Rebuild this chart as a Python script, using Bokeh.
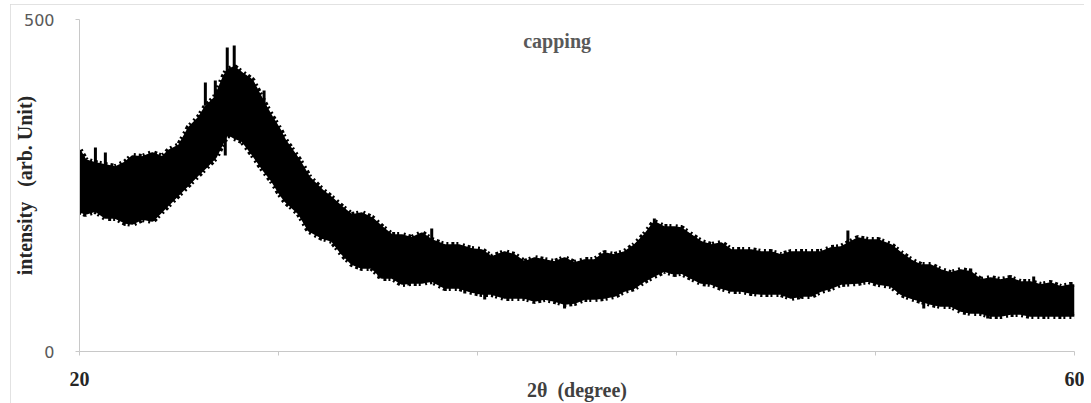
from bokeh.plotting import figure
from bokeh.models import Range1d, Label, FixedTicker
from bokeh.embed import file_html
from bokeh.resources import INLINE

# 2theta (degree) and the upper / lower envelope of the noisy XRD trace (arb. unit)
two_theta = [20.00, 20.24, 20.64, 21.04, 21.44, 21.85, 22.13, 22.53, 22.93, 23.33,
             23.61, 24.01, 24.41, 24.81, 25.06, 25.46, 25.74, 25.94, 26.22, 26.54,
             26.94, 27.42, 27.74, 28.06, 28.26, 28.83, 29.23, 29.75, 30.15, 30.55,
             30.95, 31.35, 31.76, 32.16, 32.56, 32.96, 33.36, 33.76, 34.16, 34.68,
             35.25, 35.77, 36.17, 36.57, 37.09, 37.49, 37.89, 38.29, 38.70, 39.10,
             39.50, 39.90, 40.30, 40.70, 41.10, 41.50, 41.91, 42.31, 42.71, 43.11,
             43.51, 43.91, 44.19, 44.59, 45.00, 45.40, 45.80, 46.20, 46.60, 47.00,
             47.40, 47.80, 48.20, 48.60, 49.01, 49.41, 49.81, 50.21, 50.61, 51.29,
             51.70, 52.10, 52.62, 53.02, 53.42, 53.82, 54.22, 54.62, 55.02, 55.43,
             55.83, 56.23, 56.63, 57.03, 57.43, 57.83, 58.23, 58.64, 59.04, 59.44,
             59.84, 60.00]
upper = [302.7, 287.6, 283.1, 280.1, 277.1, 284.6, 293.7, 292.2, 298.2, 292.2,
         302.7, 310.2, 337.3, 352.4, 367.5, 382.5, 408.1, 423.2, 427.7, 418.7,
         408.1, 373.5, 352.4, 332.8, 317.8, 287.6, 262.0, 242.5, 230.4, 216.9,
         204.8, 207.8, 200.3, 186.7, 174.7, 174.7, 170.2, 177.7, 167.2, 159.6,
         159.6, 153.6, 152.1, 141.6, 149.1, 144.6, 134.0, 140.1, 137.0, 134.0,
         140.1, 132.5, 137.0, 137.0, 147.6, 144.6, 149.1, 159.6, 174.7, 194.3,
         186.7, 186.7, 185.2, 174.7, 164.2, 159.6, 162.6, 152.1, 152.1, 152.1,
         149.1, 149.1, 144.6, 149.1, 149.1, 149.1, 149.1, 155.1, 156.6, 170.2,
         167.2, 167.2, 159.6, 147.6, 137.0, 129.5, 129.5, 122.0, 117.5, 122.0,
         119.0, 106.9, 109.9, 106.9, 109.9, 103.9, 103.9, 99.4, 102.4, 96.4,
         99.4, 99.4]
lower = [212.3, 207.8, 212.3, 201.8, 201.8, 194.3, 192.8, 200.3, 197.3, 212.3,
         222.9, 237.9, 253.0, 268.1, 277.1, 292.2, 313.2, 328.3, 322.3, 317.8,
         298.2, 272.6, 257.5, 237.9, 227.4, 207.8, 182.2, 171.7, 167.2, 147.6,
         132.5, 126.5, 126.5, 111.4, 111.4, 102.4, 103.9, 103.9, 106.9, 96.4,
         96.4, 90.4, 87.3, 87.3, 81.3, 81.3, 81.3, 76.8, 79.8, 76.8,
         72.3, 73.8, 79.8, 79.8, 81.3, 84.3, 91.9, 96.4, 106.9, 114.5,
         122.0, 117.5, 119.0, 111.4, 103.9, 102.4, 96.4, 91.9, 91.9, 88.9,
         87.3, 87.3, 87.3, 81.3, 84.3, 84.3, 91.9, 96.4, 102.4, 103.9,
         106.9, 102.4, 99.4, 87.3, 81.3, 76.8, 72.3, 69.3, 69.3, 61.7,
         58.7, 58.7, 54.2, 54.2, 57.2, 57.2, 54.2, 54.2, 54.2, 54.2,
         54.2, 54.2]

# isolated spikes above the band and dips below it
spike_x = [20.64, 21.04, 25.06, 25.46, 25.94, 26.22, 27.42, 34.16, 43.11, 50.89, 55.83, 58.36]
spike_top = [307.2, 299.7, 405.1, 408.1, 457.8, 460.8, 393.1, 185.2, 200.3, 182.2, 125.0, 113.0]
spike_base = [280.0, 278.0, 370.0, 380.0, 420.0, 425.0, 370.0, 165.0, 185.0, 160.0, 115.0, 100.0]
dip_x = [25.86, 32.04, 33.24, 35.49, 36.29, 39.50, 49.01, 53.94, 56.51]
dip_bottom = [295.2, 109.9, 99.4, 87.3, 78.3, 64.8, 79.8, 64.8, 49.7]
dip_base = [330.0, 125.0, 110.0, 97.0, 90.0, 75.0, 88.0, 75.0, 58.0]

x_ticks = [20, 28, 36, 44, 52, 60]
y_ticks = [0, 500]

p = figure(width=1074, height=399, output_backend="svg", toolbar_location=None,
           x_range=Range1d(20, 60), y_range=Range1d(0, 500),
           min_border_left=67, min_border_right=10, min_border_top=15,
           min_border_bottom=52)
p.outline_line_color = None
p.xgrid.visible = False
p.ygrid.visible = False
p.styles = {"margin-left": "10px", "margin-top": "4px",
            "outline": "1px solid #d9d9d9", "outline-offset": "-1px"}

p.varea(x=two_theta, y1=lower, y2=upper, fill_color="black")
p.line(two_theta, upper, line_color="black", line_width=7, line_dash="2 3 3 2 2 4")
p.line(two_theta, lower, line_color="black", line_width=7, line_dash="3 2 2 4 2 3")
p.line(two_theta, upper, line_color="black", line_width=2.5)
p.line(two_theta, lower, line_color="black", line_width=2.5)
p.segment(x0=spike_x, y0=spike_base, x1=spike_x, y1=spike_top,
          line_color="black", line_width=3)
p.segment(x0=dip_x, y0=dip_base, x1=dip_x, y1=dip_bottom,
          line_color="black", line_width=3)

xa = p.xaxis[0]
xa.ticker = FixedTicker(ticks=x_ticks)
xa.major_label_overrides = {t: "" for t in x_ticks[1:-1]}
xa.axis_line_color = "#c8c8c8"
xa.major_tick_line_color = "#c8c8c8"
xa.major_tick_out = 4
xa.major_tick_in = 0
xa.minor_tick_line_color = None
xa.major_label_text_font = "Liberation Serif"
xa.major_label_text_font_style = "bold"
xa.major_label_text_font_size = "20px"
xa.major_label_text_color = "#262626"
xa.major_label_standoff = 16
xa.axis_label = "2\u03b8\u00a0\u00a0(degree)"
xa.axis_label_text_font = "Liberation Serif"
xa.axis_label_text_font_style = "bold"
xa.axis_label_text_font_size = "20px"
xa.axis_label_text_color = "#404040"
xa.axis_label_standoff = -10

ya = p.yaxis[0]
ya.ticker = FixedTicker(ticks=y_ticks)
ya.axis_line_color = "#c8c8c8"
ya.major_tick_line_color = "#c8c8c8"
ya.major_tick_out = 4
ya.major_tick_in = 0
ya.minor_tick_line_color = None
ya.major_label_text_font = "DejaVu Sans"
ya.major_label_text_font_size = "16px"
ya.major_label_text_color = "#595959"
ya.major_label_standoff = 21
ya.axis_label = "intensity\u00a0\u00a0\u00a0(arb. Unit)"
ya.axis_label_text_font = "Liberation Serif"
ya.axis_label_text_font_style = "bold"
ya.axis_label_text_font_size = "20px"
ya.axis_label_text_color = "#262626"
ya.axis_label_standoff = -15

p.add_layout(Label(x=39.2, y=468, text="capping", text_font="Liberation Serif",
                   text_font_style="bold", text_font_size="20px", text_color="#595959",
                   text_align="center", text_baseline="middle"))

open("out.html", "w").write(file_html(p, INLINE))
